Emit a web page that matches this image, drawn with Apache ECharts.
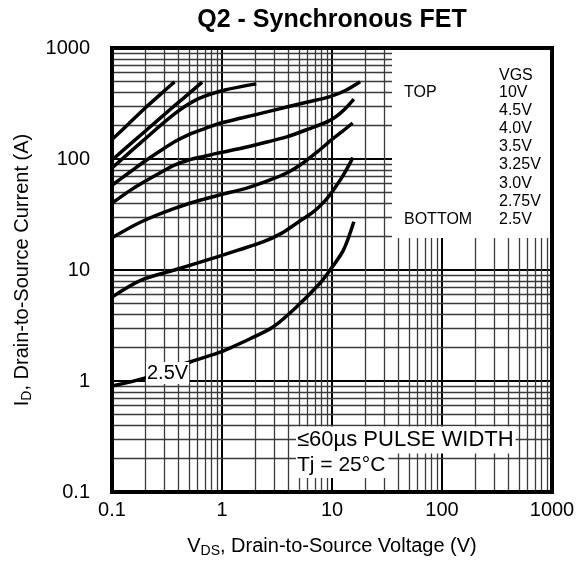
<!DOCTYPE html>
<html>
<head>
<meta charset="utf-8">
<script src="https://cdn.jsdelivr.net/npm/echarts@6/dist/echarts.min.js"></script>
<style>
    html, body { margin: 0; padding: 0; background: #fff; }
    #main { width: 583px; height: 577px; }
</style>
</head>
<body>
<div id="main"></div>
<script>
// tick labels on both log axes
const tickLabels = ['0.1', '1', '10', '100', '1000'];

// VGS legend entries, top to bottom
const vgsList = ['10V', '4.5V', '4.0V', '3.5V', '3.25V', '3.0V', '2.75V', '2.5V'];

// curves: [VDS (V), ID (A)]
const curve10V = [[0.1, 150], [0.14, 205], [0.2, 288], [0.28, 388], [0.37, 495]];
const curve45V = [[0.1, 98], [0.2, 178], [0.35, 288], [0.5, 388], [0.66, 492]];
const curve40V = [[0.1, 83], [0.185, 142], [0.37, 255], [0.6, 346], [1.06, 418], [2.05, 475]];
const curve35V = [[0.1, 58], [0.15, 78], [0.2, 96], [0.28, 120], [0.37, 143], [0.5, 166], [0.7, 188],
    [0.96, 210], [1.5, 234], [2.62, 267], [3.87, 294], [6, 326], [9.6, 365], [13.1, 412], [18, 497]];
const curve325V = [[0.1, 40], [0.15, 53], [0.2, 63], [0.28, 76], [0.37, 88], [0.5, 98], [0.7, 106],
    [0.92, 113], [1.5, 125], [2.62, 143], [3.87, 158], [6, 185], [9.6, 223], [12.5, 270], [15.8, 347]];
const curve30V = [[0.1, 19.5], [0.185, 27.2], [0.37, 35.9], [0.64, 42.7], [0.96, 47.5], [1.7, 55],
    [2.7, 64.5], [4, 76], [5.45, 92], [7.5, 118], [10, 150], [12.5, 178], [15.4, 211]];
const curve275V = [[0.1, 5.7], [0.184, 8.1], [0.37, 10], [0.92, 13.2], [1.4, 15.1], [2.36, 17.9],
    [3.5, 21.5], [4.77, 26.4], [6.8, 33.5], [9, 44], [10.5, 54], [12.5, 70], [15.5, 103]];
const curve25V = [[0.1, 0.9], [0.198, 1.06], [0.3, 1.25], [0.52, 1.49], [0.92, 1.79], [1.18, 1.98],
    [1.8, 2.4], [2.93, 3.08], [4.77, 4.66], [7.77, 7.6], [9.6, 10], [12.7, 15.1], [15.8, 27.2]];

const curves = [curve10V, curve45V, curve40V, curve35V, curve325V, curve30V, curve275V, curve25V];

// minor grid lines 2..9 in every decade
let minorTicks = [];
for (let d = 0.1; d < 1000; d *= 10) {
    for (let m = 2; m <= 9; m++) {
        minorTicks.push(+(m * d).toPrecision(3));
    }
}

const FONT = '"Liberation Sans", Arial, sans-serif';

function fmtTick(v) {
    for (let t of tickLabels) {
        if (Math.abs(Math.log10(+t) - Math.log10(v)) < 1e-6) return t;
    }
    return '';
}

let chart = echarts.init(document.getElementById('main'), null, {renderer: 'canvas'});

let series = curves.map((c, i) => ({
    name: vgsList[i],
    type: 'line',
    data: c,
    smooth: 0.3,
    showSymbol: false,
    symbol: 'none',
    z: 5,
    lineStyle: {color: '#000', width: 3.5}
}));

// minor grid through the axes
series.push({
    type: 'line',
    data: [],
    z: 1,
    markLine: {
        silent: true,
        symbol: ['none', 'none'],
        label: {show: false},
        animation: false,
        lineStyle: {color: '#3a3a3a', width: 1.3, type: 'solid'},
        emphasis: {disabled: true},
        data: minorTicks.map(v => ({xAxis: v})).concat(minorTicks.map(v => ({yAxis: v})))
    }
});

let legendTexts = [
    {type: 'text', z: 101, x: 499, y: 76, style: {text: 'VGS', font: '16px ' + FONT, fill: '#000', verticalAlign: 'middle'}},
    {type: 'text', z: 101, x: 404, y: 93, style: {text: 'TOP', font: '16px ' + FONT, fill: '#000', verticalAlign: 'middle'}},
    {type: 'text', z: 101, x: 404, y: 220, style: {text: 'BOTTOM', font: '16px ' + FONT, fill: '#000', verticalAlign: 'middle'}}
];
const rowY = [93, 111, 129, 147, 165, 184, 202, 220];
vgsList.forEach((v, i) => {
    legendTexts.push({type: 'text', z: 101, x: 499, y: rowY[i],
        style: {text: v, font: '16px ' + FONT, fill: '#000', verticalAlign: 'middle'}});
});

chart.setOption({
    animation: false,
    backgroundColor: '#fff',
    grid: {left: 112, top: 48, width: 440, height: 444, containLabel: false, show: false},
    xAxis: {
        type: 'log',
        logBase: 10,
        min: 0.1,
        max: 1000,
        name: '{a|V}{s|DS}{a|, Drain-to-Source Voltage (V)}',
        nameLocation: 'middle',
        nameGap: 44,
        nameTextStyle: {
            color: '#000', fontSize: 20, fontFamily: FONT,
            rich: {
                a: {color: '#000', fontSize: 20, fontFamily: FONT, lineHeight: 22, verticalAlign: 'top'},
                s: {color: '#000', fontSize: 14, fontFamily: FONT, lineHeight: 14, verticalAlign: 'bottom', padding: [10, 0, 0, 0]}
            }
        },
        axisLine: {show: false},
        axisTick: {show: false},
        axisLabel: {color: '#000', fontSize: 20, fontFamily: FONT, margin: 8, formatter: fmtTick,
            showMinLabel: true, showMaxLabel: true},
        splitLine: {show: true, lineStyle: {color: '#000', width: 2}},
        minorTick: {show: false},
        minorSplitLine: {show: false}
    },
    yAxis: {
        type: 'log',
        logBase: 10,
        min: 0.1,
        max: 1000,
        name: '{a|I}{s|D}{a|, Drain-to-Source Current (A)}',
        nameLocation: 'middle',
        nameRotate: 90,
        nameGap: 76,
        nameTextStyle: {
            color: '#000', fontSize: 20, fontFamily: FONT,
            rich: {
                a: {color: '#000', fontSize: 20, fontFamily: FONT, lineHeight: 22, verticalAlign: 'top'},
                s: {color: '#000', fontSize: 14, fontFamily: FONT, lineHeight: 14, verticalAlign: 'bottom', padding: [10, 0, 0, 0]}
            }
        },
        axisLine: {show: false},
        axisTick: {show: false},
        axisLabel: {color: '#000', fontSize: 20, fontFamily: FONT, margin: 22, formatter: fmtTick,
            showMinLabel: true, showMaxLabel: true},
        splitLine: {show: true, lineStyle: {color: '#000', width: 2}}
    },
    series: series,
    graphic: [
        {type: 'text', z: 100, x: 332, y: 20,
            style: {text: 'Q2 - Synchronous FET', font: 'bold 25px ' + FONT, fill: '#000', align: 'center', verticalAlign: 'middle'}},
        // legend panel
        {type: 'rect', z: 100, shape: {x: 392, y: 50, width: 158, height: 188}, style: {fill: '#fff'}},
        ...legendTexts,
        // notes
        {type: 'text', z: 100, x: 146, y: 373,
            style: {text: '2.5V', font: '20px ' + FONT, fill: '#000', verticalAlign: 'middle',
                backgroundColor: '#fff', padding: [2, 1, 0, 1]}},
        {type: 'text', z: 100, x: 296, y: 440,
            style: {text: '≤60µs PULSE WIDTH', font: '22px ' + FONT, fill: '#000', verticalAlign: 'middle',
                backgroundColor: '#fff', padding: [3, 2, 2, 1]}},
        {type: 'text', z: 100, x: 296, y: 465,
            style: {text: 'Tj = 25°C', font: '21px ' + FONT, fill: '#000', verticalAlign: 'middle',
                backgroundColor: '#fff', padding: [3, 3, 2, 1]}},
        // plot frame
        {type: 'rect', z: 110, shape: {x: 112, y: 48, width: 440, height: 444},
            style: {fill: 'none', stroke: '#000', lineWidth: 4}}
    ]
});
</script>
</body>
</html>
